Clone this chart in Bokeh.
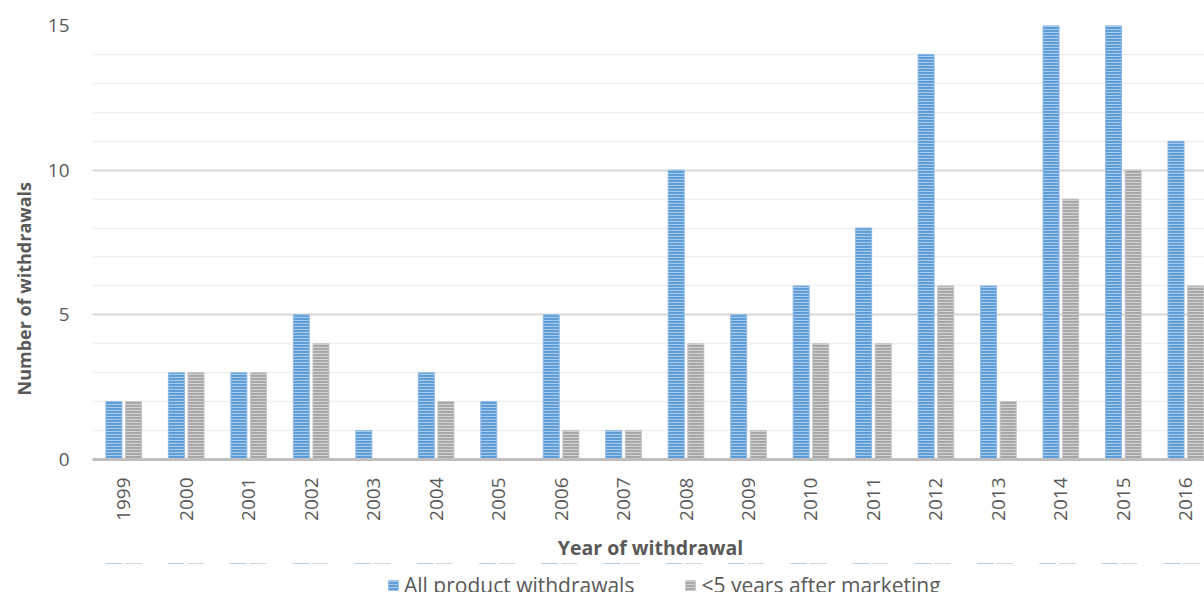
import math
from bokeh.plotting import figure
from bokeh.layouts import column
from bokeh.models import (ColumnDataSource, Range1d, FixedTicker, SingleIntervalTicker,
                          Legend, LegendItem, Title)
from bokeh.embed import file_html
from bokeh.resources import INLINE

# Withdrawals per year
years = [1999, 2000, 2001, 2002, 2003, 2004, 2005, 2006, 2007,
         2008, 2009, 2010, 2011, 2012, 2013, 2014, 2015, 2016]
all_withdrawals = [2, 3, 3, 5, 1, 3, 2, 5, 1, 10, 5, 6, 8, 14, 6, 15, 15, 11]
early_withdrawals = [2, 3, 3, 4, 0, 2, 0, 1, 1, 4, 1, 4, 4, 6, 2, 9, 10, 6]
series_names = ["All product withdrawals", "<5 years after marketing"]

FONT = "Open Sans"
TEXT = "#595959"
OFFSET = 0.157
BAR_W = 0.256

STYLE_ALL = dict(fill_color="#5b9bd5", line_color="#8fb9e3", line_width=1,
                 hatch_pattern="horizontal_line", hatch_color="#a9cbee",
                 hatch_scale=3, hatch_weight=1.2)
STYLE_EARLY = dict(fill_color="#a5a5a5", line_color="#c4c4c4", line_width=1,
                   hatch_pattern="horizontal_line", hatch_color="#d2d2d2",
                   hatch_scale=3, hatch_weight=1.2)

src = ColumnDataSource(dict(
    x_all=[y - OFFSET for y in years],
    x_early=[y + OFFSET for y in years],
    all=all_withdrawals,
    early=early_withdrawals,
))

p = figure(width=1204, height=556, frame_width=1116, frame_height=434,
           output_backend="svg", toolbar_location=None,
           x_range=Range1d(1998.5, 2016.363), y_range=Range1d(0, 15),
           min_border_left=88, min_border_right=0, min_border_top=25,
           min_border_bottom=0)
p.outline_line_color = None
p.background_fill_color = "white"
p.border_fill_color = "white"

p.vbar(x="x_all", top="all", width=BAR_W, source=src, **STYLE_ALL)
p.vbar(x="x_early", top="early", width=BAR_W, source=src, **STYLE_EARLY)

# x axis: one tick per year, labels turned upright
xa = p.xaxis[0]
xa.ticker = FixedTicker(ticks=years)
xa.major_label_orientation = math.pi / 2
xa.major_label_text_font = FONT
xa.major_label_text_font_size = "19px"
xa.major_label_text_color = TEXT
xa.major_label_standoff = 12
xa.major_tick_line_color = None
xa.minor_tick_line_color = None
xa.axis_line_color = "#bfbfbf"
xa.axis_line_width = 3
xa.axis_label = "Year of withdrawal"
xa.axis_label_text_font = FONT
xa.axis_label_text_font_style = "bold"
xa.axis_label_text_font_size = "19.5px"
xa.axis_label_text_color = TEXT
xa.axis_label_standoff = 10

# y axis
ya = p.yaxis[0]
ya.ticker = SingleIntervalTicker(interval=5, num_minor_ticks=5)
ya.major_label_text_font = FONT
ya.major_label_text_font_size = "19px"
ya.major_label_text_color = TEXT
ya.major_label_standoff = 17
ya.major_tick_line_color = None
ya.minor_tick_line_color = None
ya.axis_line_color = None

p.xgrid.grid_line_color = None
p.ygrid.ticker = SingleIntervalTicker(interval=5, num_minor_ticks=5)
p.ygrid.grid_line_color = "#d9d9d9"
p.ygrid.grid_line_width = 2
p.ygrid.minor_grid_line_color = "#f0f0f0"
p.ygrid.minor_grid_line_width = 1.5

# y axis title, set a little below the middle of the plot area
p.add_layout(Title(text="Number of withdrawals", align="left", offset=64,
                   text_font=FONT, text_font_style="bold",
                   text_font_size="18px", text_color=TEXT, standoff=18), "left")

# legend strip under the chart; its bars lie outside the strip's y range,
# so only the legend swatches show
lg = figure(width=1204, height=36, output_backend="svg", toolbar_location=None,
            x_range=Range1d(1998.5, 2016.363), y_range=Range1d(-2, -1),
            x_axis_type=None, y_axis_type=None,
            min_border_left=88, min_border_right=0, min_border_top=0,
            min_border_bottom=0)
lg.outline_line_color = None
lg.xgrid.grid_line_color = None
lg.ygrid.grid_line_color = None
swatch_all = lg.vbar(x="x_all", top="all", width=BAR_W, source=src, **STYLE_ALL)
swatch_early = lg.vbar(x="x_early", top="early", width=BAR_W, source=src, **STYLE_EARLY)

legend = Legend(items=[LegendItem(label=series_names[0], renderers=[swatch_all]),
                       LegendItem(label=series_names[1], renderers=[swatch_early])],
                orientation="horizontal", location=(295, 0),
                label_text_font=FONT, label_text_font_size="21px",
                label_text_color=TEXT, glyph_width=12, glyph_height=12,
                spacing=50, padding=0, margin=0, label_standoff=5,
                border_line_color=None, background_fill_alpha=0)
lg.add_layout(legend)

open("out.html", "w").write(file_html(column(p, lg, spacing=0), INLINE))
